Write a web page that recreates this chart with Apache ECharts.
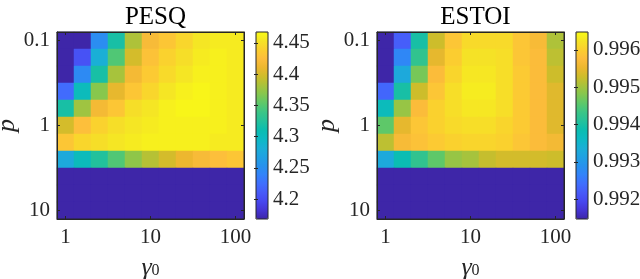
<!DOCTYPE html>
<html>
<head>
<meta charset="utf-8">
<script src="https://cdn.jsdelivr.net/npm/echarts@6/dist/echarts.min.js"></script>
<style>html,body{margin:0;padding:0;background:#fff}#c{width:640px;height:279px}</style>
</head>
<body>
<div id="c"></div>
<script>
// gamma0 = 10^(0.2k), k = 0..10 ; p = 10^(-1+0.2i), i = 0..10
const gammaCats = ['1','1.58','2.51','3.98','6.31','10','15.8','25.1','39.8','63.1','100'];
const pCats = ['0.1','0.158','0.251','0.398','0.631','1','1.58','2.51','3.98','6.31','10'];
const xTickLabels = {0:'1', 5:'10', 10:'100'};
const yTickLabels = {0:'0.1', 5:'1', 10:'10'};

// PESQ values, rows = p (top to bottom), cols = gamma0
const pesq = [
  [4.168,4.168,4.249,4.318,4.384,4.420,4.432,4.444,4.455,4.458,4.458],
  [4.168,4.204,4.282,4.348,4.399,4.429,4.441,4.450,4.458,4.461,4.458],
  [4.168,4.246,4.318,4.381,4.417,4.435,4.447,4.455,4.461,4.461,4.458],
  [4.222,4.303,4.369,4.408,4.432,4.444,4.455,4.461,4.464,4.461,4.458],
  [4.318,4.378,4.417,4.432,4.450,4.455,4.461,4.464,4.464,4.461,4.458],
  [4.399,4.426,4.441,4.450,4.455,4.458,4.461,4.461,4.461,4.461,4.458],
  [4.432,4.444,4.450,4.455,4.458,4.461,4.461,4.461,4.461,4.458,4.458],
  [4.276,4.303,4.324,4.348,4.372,4.387,4.399,4.411,4.420,4.426,4.432],
  [4.168,4.168,4.168,4.168,4.168,4.168,4.168,4.168,4.168,4.168,4.168],
  [4.168,4.168,4.168,4.168,4.168,4.168,4.168,4.168,4.168,4.168,4.168],
  [4.168,4.168,4.168,4.168,4.168,4.168,4.168,4.168,4.168,4.168,4.168]
];
// ESTOI values
const estoi = [
  [0.99147,0.99222,0.99398,0.99528,0.99588,0.99613,0.99613,0.99613,0.99588,0.99568,0.99508],
  [0.99147,0.99272,0.99423,0.99548,0.99598,0.99623,0.99623,0.99618,0.99588,0.99573,0.99518],
  [0.99147,0.99327,0.99473,0.99573,0.99608,0.99628,0.99628,0.99618,0.99593,0.99573,0.99528],
  [0.99232,0.99398,0.99528,0.99588,0.99618,0.99633,0.99633,0.99618,0.99593,0.99573,0.99543],
  [0.99373,0.99493,0.99573,0.99603,0.99618,0.99628,0.99628,0.99618,0.99593,0.99573,0.99543],
  [0.99458,0.99548,0.99588,0.99603,0.99613,0.99618,0.99618,0.99608,0.99593,0.99573,0.99543],
  [0.99518,0.99568,0.99583,0.99593,0.99603,0.99608,0.99608,0.99603,0.99588,0.99573,0.99563],
  [0.99327,0.99382,0.99423,0.99458,0.99493,0.99503,0.99523,0.99533,0.99533,0.99533,0.99528],
  [0.99147,0.99147,0.99147,0.99147,0.99147,0.99147,0.99147,0.99147,0.99147,0.99147,0.99147],
  [0.99147,0.99147,0.99147,0.99147,0.99147,0.99147,0.99147,0.99147,0.99147,0.99147,0.99147],
  [0.99147,0.99147,0.99147,0.99147,0.99147,0.99147,0.99147,0.99147,0.99147,0.99147,0.99147]
];
const pesqRange = [4.168, 4.4675];
const estoiRange = [0.99147, 0.99648];
const pesqTicks = [4.2, 4.25, 4.3, 4.35, 4.4, 4.45];
const estoiTicks = [0.992, 0.993, 0.994, 0.995, 0.996];
const titles = ['PESQ', 'ESTOI'];

const parula = ['#3e26a8','#4535d5','#4748f0','#475bf9','#3f6ffe','#3283f9','#2792ed','#20a1e2','#1aafd6','#0cbac4','#0bbdb0','#24c19b','#3bc586','#5dc86a','#84c74f','#a9c33b','#cebd2a','#ecb72f','#fdbd3c','#fbcf2f','#f5e326','#f9fb15'];

const FONT = 'Liberation Serif';
const TXT = '#262626';

function toData(m){
  const out = [];
  m.forEach((row, i) => row.forEach((v, j) => out.push([j, i, v])));
  return out;
}

const grids = [
  {left: 57, top: 32, width: 187, height: 187},
  {left: 377, top: 32, width: 187, height: 187}
];
const cbars = [
  {left: 256, top: 32, width: 12, height: 187},
  {left: 576, top: 32, width: 12, height: 187}
];

const option = {
  animation: false,
  backgroundColor: '#fff',
  title: titles.map((t, k) => ({
    text: t,
    left: grids[k].left + grids[k].width / 2,
    top: 0,
    textAlign: 'center',
    textStyle: {fontFamily: FONT, fontSize: 25, fontWeight: 'normal', color: '#000'}
  })),
  grid: [],
  xAxis: [],
  yAxis: [],
  visualMap: [],
  series: []
};

const gridBase = {show: true, borderColor: TXT, borderWidth: 1, backgroundColor: 'transparent', z: 10, containLabel: false, outerBoundsMode: 'none'};
const tickFn = i => i % 5 === 0;
[0, 1].forEach(k => {
  const g = grids[k];
  const gi = option.grid.length;
  option.grid.push(Object.assign({}, gridBase, g));
  const baseX = {
    type: 'category', data: gammaCats, gridIndex: gi, boundaryGap: true,
    axisLine: {show: true, lineStyle: {color: TXT, width: 1}},
    axisTick: {show: true, inside: true, length: 3, alignWithLabel: true, interval: tickFn, lineStyle: {color: TXT}},
    splitLine: {show: false}, z: 11
  };
  option.xAxis.push(Object.assign({}, baseX, {
    position: 'bottom',
    axisLabel: {show: true, interval: tickFn, formatter: (v, i) => xTickLabels[i] || '', fontFamily: FONT, fontSize: 21, color: TXT, margin: 8},
    name: '{g|γ}{s|0}', nameLocation: 'middle', nameGap: 38,
    nameTextStyle: {lineHeight: 22, rich: {g: {fontFamily: FONT, fontStyle: 'italic', fontSize: 26, lineHeight: 22, color: TXT}, s: {fontFamily: FONT, fontSize: 16, lineHeight: 22, color: TXT, verticalAlign: 'bottom', padding: [8, 0, 0, 0]}}}
  }));
  option.xAxis.push(Object.assign({}, baseX, {position: 'top', axisLabel: {show: false}}));
  const baseY = {
    type: 'category', data: pCats, gridIndex: gi, boundaryGap: true, inverse: true,
    axisLine: {show: true, lineStyle: {color: TXT, width: 1}},
    axisTick: {show: true, inside: true, length: 3, alignWithLabel: true, interval: tickFn, lineStyle: {color: TXT}},
    splitLine: {show: false}, z: 11
  };
  option.yAxis.push(Object.assign({}, baseY, {
    position: 'left',
    axisLabel: {show: true, interval: tickFn, formatter: (v, i) => yTickLabels[i] || '', fontFamily: FONT, fontSize: 21, color: TXT, margin: 7},
    name: 'p', nameLocation: 'middle', nameGap: 23, nameRotate: 90,
    nameTextStyle: {fontFamily: FONT, fontStyle: 'italic', fontSize: 26, color: TXT}
  }));
  option.yAxis.push(Object.assign({}, baseY, {position: 'right', axisLabel: {show: false}}));
  const xi = option.xAxis.length - 2, yi = option.yAxis.length - 2;
  const m = k === 0 ? pesq : estoi;
  option.series.push({
    type: 'heatmap', xAxisIndex: xi, yAxisIndex: yi, data: toData(m),
    itemStyle: {borderWidth: 0}, emphasis: {disabled: true}, progressive: 0
  });
  const range = k === 0 ? pesqRange : estoiRange;
  const cb = cbars[k];
  option.visualMap.push({
    type: 'continuous', seriesIndex: option.series.length - 1, dimension: 2,
    min: range[0], max: range[1], calculable: false, realtime: false,
    left: cb.left, top: cb.top, itemWidth: cb.width, itemHeight: cb.height,
    padding: 0, text: null, showLabel: false, orient: 'vertical',
    inRange: {color: parula}, outOfRange: {color: parula[0]},
    textStyle: {color: 'transparent'}
  });
  // colorbar axis
  const cgi = option.grid.length;
  option.grid.push(Object.assign({}, gridBase, cb));
  const ticks = k === 0 ? pesqTicks : estoiTicks;
  const cbAxis = {
    type: 'value', gridIndex: cgi, min: range[0], max: range[1],
    axisLine: {show: false}, splitLine: {show: false}, z: 11,
    axisTick: {show: true, inside: true, length: 2, lineStyle: {color: TXT}, customValues: ticks},
  };
  option.yAxis.push(Object.assign({}, cbAxis, {
    position: 'right',
    axisLabel: {show: true, customValues: ticks, formatter: v => String(+v.toFixed(4)), fontFamily: FONT, fontSize: 21, color: TXT, margin: 5}
  }));
  option.yAxis.push(Object.assign({}, cbAxis, {position: 'left', axisLabel: {show: false}}));
  option.xAxis.push({type: 'value', gridIndex: cgi, show: false});
});

const chart = echarts.init(document.getElementById('c'), null, {renderer: 'canvas'});
chart.setOption(option);
</script>
</body>
</html>
